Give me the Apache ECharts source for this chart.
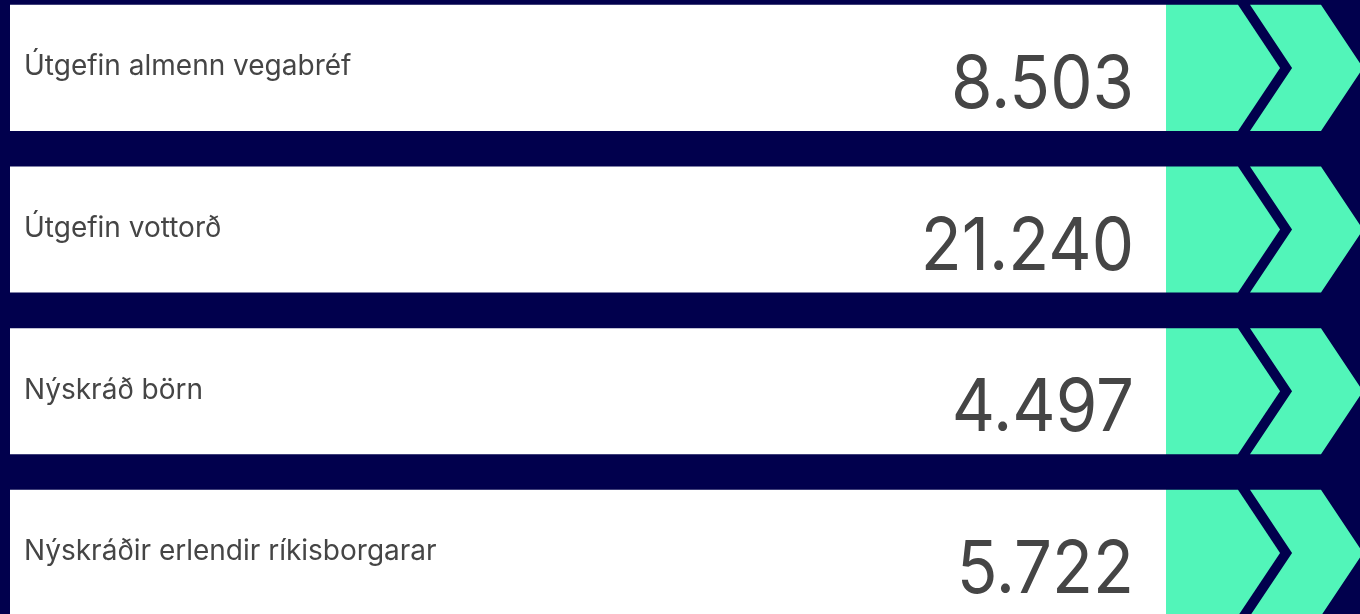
<!DOCTYPE html>
<html>
<head>
<meta charset="utf-8">
<script src="https://cdn.jsdelivr.net/npm/echarts@6/dist/echarts.min.js"></script>
<style>
  html, body { margin: 0; padding: 0; background: #01004d; }
  #chart { width: 1360px; height: 614px; }
</style>
</head>
<body>
<div id="chart"></div>
<script>
// tölur
const categories = ['Útgefin almenn vegabréf', 'Útgefin vottorð', 'Nýskráð börn', 'Nýskráðir erlendir ríkisborgarar']
const values = [8503, 21240, 4497, 5722]

const navy = '#01004d'
const green = '#52f5b9'
const textColor = '#454545'

function formatNumber(v) {
  return String(v).replace(/\B(?=(\d{3})+(?!\d))/g, '.')
}

const chart = echarts.init(document.getElementById('chart'))

chart.setOption({
  backgroundColor: navy,
  animation: false,
  grid: { left: 10, right: 0, top: 0, bottom: 0 },
  xAxis: { type: 'value', min: 0, max: 1350, show: false },
  // row index on a value axis so the last row can run past the bottom edge
  yAxis: { type: 'value', min: -0.42, max: 3.378, inverse: true, show: false },
  series: [
    {
      type: 'custom',
      encode: { y: 0 },
      data: values.map((v, i) => [i, v]),
      renderItem(params, api) {
        const idx = api.value(0)
        const origin = api.coord([0, idx])
        const cy = origin[1]
        const rowH = api.size([0, 1])[1] * 0.78
        const top = cy - rowH / 2
        const bottom = cy + rowH / 2
        const whiteEnd = api.coord([1156, idx])[0]
        const dx = (rowH / 2) * 0.667
        const c1 = 1238
        const c2 = 1250
        const c3 = 1321
        return {
          type: 'group',
          children: [
            {
              type: 'rect',
              shape: { x: origin[0], y: top, width: whiteEnd - origin[0], height: rowH },
              style: { fill: '#ffffff' }
            },
            {
              type: 'polygon',
              shape: { points: [[whiteEnd, top], [c1, top], [c1 + dx, cy], [c1, bottom], [whiteEnd, bottom]] },
              style: { fill: green }
            },
            {
              type: 'polygon',
              shape: { points: [[c2, top], [c3, top], [c3 + dx, cy], [c3, bottom], [c2, bottom], [c2 + dx, cy]] },
              style: { fill: green }
            },
            {
              type: 'text',
              x: 24,
              y: cy - 1,
              style: {
                text: categories[idx],
                fill: textColor,
                fontFamily: 'Inter',
                fontSize: 28,
                align: 'left',
                verticalAlign: 'middle'
              }
            },
            {
              type: 'text',
              x: 1134,
              y: cy + 18,
              scaleX: 0.92,
              style: {
                text: formatNumber(api.value(1)),
                fill: textColor,
                fontFamily: 'Inter',
                fontSize: 73,
                align: 'right',
                verticalAlign: 'middle'
              }
            }
          ]
        }
      }
    }
  ]
})
</script>
</body>
</html>
